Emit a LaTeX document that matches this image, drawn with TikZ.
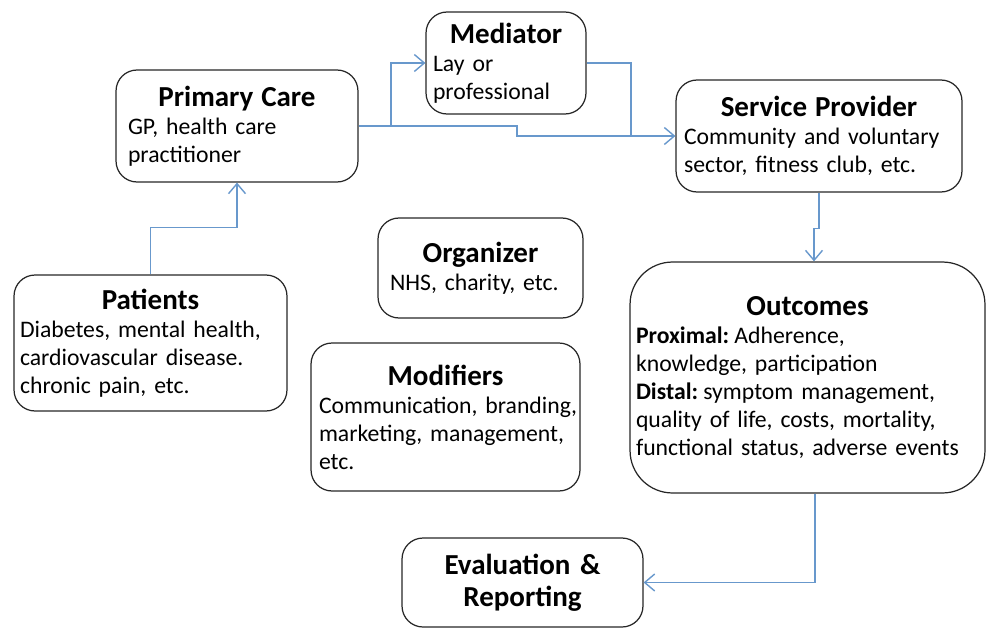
\documentclass[tikz,border=0pt]{standalone}
\usepackage{fontspec}
\setmainfont{Carlito}
\usetikzlibrary{arrows.meta,positioning}
\definecolor{linkblue}{RGB}{104,152,204}
\newcommand\cardtitle[1]{{\centering\fontsize{16.5}{18}\selectfont\bfseries #1\par}}

\begin{document}
\hyphenpenalty=10000 \exhyphenpenalty=10000
\begin{tikzpicture}[x=0.02cm,y=0.02cm,
  card/.style={draw=black!85,line width=0.7pt,rounded corners=0.42cm,align=left,
    font=\fontsize{13.5}{15.9}\selectfont,inner ysep=0pt},
  link/.style={draw=linkblue,line width=0.8pt,-{Straight Barb[length=0.2cm,width=0.34cm]}},
  plain/.style={draw=linkblue,line width=0.8pt}]
\useasboundingbox (0,0) rectangle (986,-628);

% boxes
\node[card,minimum width=4.84cm,minimum height=2.24cm,inner xsep=0.24cm,text width=4.36cm]
  (prim) at (237,-126) {\cardtitle{Primary Care}GP, health care\\practitioner};
\node[card,minimum width=3.2cm,minimum height=2.04cm,inner xsep=0.14cm,text width=2.92cm]
  (med) at (506,-63) {\cardtitle{Mediator}Lay or\\professional};
\node[card,minimum width=5.72cm,minimum height=2.24cm,inner xsep=0.16cm,text width=5.4cm]
  (serv) at (819,-136) {\cardtitle{Service Provider}Community and voluntary\\sector, fitness club, etc.};
\node[card,minimum width=4.1cm,minimum height=2cm,inner xsep=0.24cm,text width=3.62cm]
  (org) at (480.5,-268) {\cardtitle{Organizer}NHS, charity, etc.};
\node[card,minimum width=5.46cm,minimum height=2.72cm,inner xsep=0.12cm,text width=5.22cm]
  (pat) at (150.5,-343) {\cardtitle{Patients}Diabetes, mental health,\\cardiovascular disease.\\chronic pain, etc.};
\node[card,minimum width=5.38cm,minimum height=2.96cm,inner xsep=0.16cm,text width=5.06cm]
  (mod) at (445.5,-417) {\cardtitle{Modifiers}\mbox{Communication, branding,}\\marketing, management,\\etc.};
\node[card,rounded corners=0.85cm,minimum width=7.1cm,minimum height=4.62cm,inner xsep=0.12cm,text width=6.86cm]
  (out) at (807.5,-377.5) {\cardtitle{Outcomes}\textbf{Proximal:}\kern3pt Adherence,\\knowledge, participation\\
  \textbf{Distal:}\kern3pt symptom management,\\quality of life, costs, mortality,\\functional status, adverse events};
\node[card,align=center,minimum width=4.82cm,minimum height=1.78cm,text width=4.4cm,
  font=\fontsize{16.5}{18}\selectfont\bfseries]
  (eval) at (522.5,-582.5) {Evaluation \&\\Reporting};

% connectors
\coordinate (split) at (391,-126);
\coordinate (merge) at (631,-136);
\draw[link] (pat.north) -- ++(0,47) -| (prim.south);
\draw[plain] (prim.east) -- (split);
\draw[link] (split) |- (med.west);
\draw[link] (split) -- ++(126,0) |- (serv.west);
\draw[plain] (med.east) -| (merge);
\draw[link] (serv.south) -- ++(0,-36) -| ([xshift=0.13cm]out.north);
\draw[link] ([xshift=0.15cm]out.south) |- (eval.east);
\end{tikzpicture}
\end{document}
